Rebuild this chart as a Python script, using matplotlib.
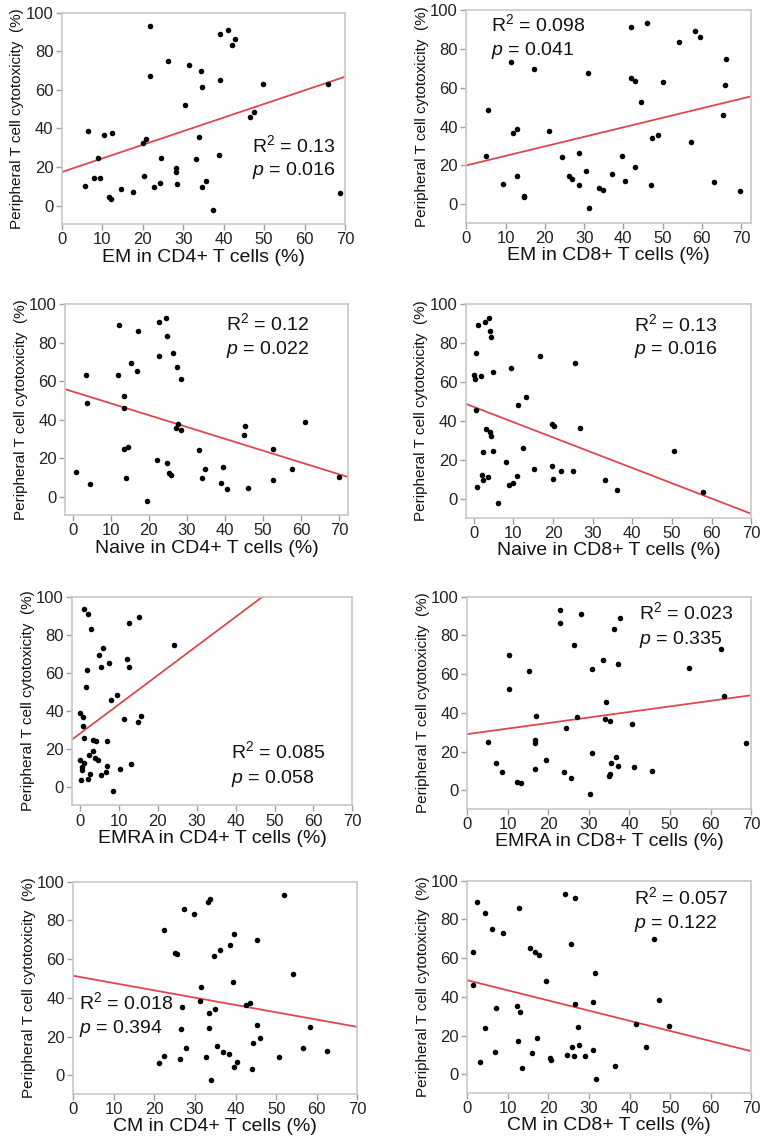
import matplotlib.pyplot as plt
import numpy as np
import matplotlib as mpl

mpl.rcParams['font.family'] = ['Liberation Sans', 'DejaVu Sans']
mpl.rcParams['mathtext.fontset'] = 'custom'
mpl.rcParams['mathtext.rm'] = 'Liberation Sans'
mpl.rcParams['mathtext.it'] = 'Liberation Sans:italic'

# --- data ---
em_cd4_x = [21.7, 39.1, 41.1, 42.8, 42.2, 26.3, 31.5, 34.3, 21.7, 39.0, 34.7, 49.8, 65.9, 30.4,
            46.5, 47.6, 6.6, 10.5, 12.5, 20.9, 20.1, 34.0, 8.9, 24.6, 33.1, 38.9, 28.3, 28.3,
            20.3, 7.9, 9.5, 5.8, 24.2, 28.5, 35.7, 34.6, 22.7, 14.6, 17.5, 11.7, 12.2, 37.5, 68.7]
em_cd4_y = [93.1, 89.1, 90.8, 86.2, 83.2, 74.8, 73.1, 69.8, 67.2, 65.1, 61.3, 63.0, 63.0, 52.3,
            45.9, 48.5, 38.7, 36.6, 37.7, 34.4, 32.3, 35.8, 24.5, 24.9, 24.4, 26.1, 19.3, 17.4,
            15.5, 14.3, 14.3, 10.4, 11.9, 11.2, 12.8, 9.7, 9.5, 8.5, 7.3, 4.5, 3.6, -2.1, 6.6]

em_cd8_x = [41.9, 46.0, 58.3, 59.5, 54.3, 66.1, 11.4, 17.3, 31.0, 41.9, 43.1, 50.0, 65.9, 44.6,
            5.5, 65.4, 13.0, 21.0, 11.9, 48.9, 47.4, 57.2, 28.6, 5.0, 24.3, 39.7, 43.0, 30.4,
            37.2, 13.0, 26.1, 26.8, 40.5, 63.2, 9.3, 28.7, 47.0, 33.9, 34.9, 14.6, 14.6, 69.7, 31.3]
em_cd8_y = [91.0, 93.3, 89.3, 86.2, 83.4, 75.0, 73.1, 69.8, 67.4, 65.2, 63.4, 63.1, 61.6, 52.4,
            48.6, 46.0, 38.8, 37.6, 36.6, 35.9, 34.3, 32.2, 26.2, 24.7, 24.3, 24.8, 19.3, 17.2,
            15.5, 14.3, 14.3, 12.8, 12.1, 11.2, 10.3, 9.7, 9.8, 8.3, 7.2, 4.5, 3.6, 6.6, -2.1]

naive_cd4_x = [24.5, 22.7, 12.2, 17.1, 24.8, 26.5, 22.7, 15.4, 27.3, 16.9, 3.5, 11.9, 28.5, 13.6,
               3.7, 13.6, 61.0, 27.7, 45.4, 27.2, 28.6, 45.1, 14.6, 13.4, 33.1, 52.7, 22.2, 24.7,
               39.5, 34.9, 57.5, 25.4, 25.9, 0.9, 14.0, 33.9, 70.0, 52.7, 39.0, 4.7, 46.0, 40.6, 19.6]
naive_cd4_y = [92.9, 90.7, 88.9, 86.0, 83.2, 74.8, 73.1, 69.6, 67.2, 65.1, 63.2, 62.9, 61.3, 52.3,
               48.5, 46.1, 38.9, 37.7, 36.6, 35.6, 34.4, 32.1, 25.9, 24.9, 24.4, 24.5, 19.3, 17.3,
               15.5, 14.3, 14.3, 12.1, 11.2, 12.6, 9.8, 9.7, 10.2, 8.5, 7.3, 6.6, 4.7, 3.8, -2.1]

naive_cd8_x = [3.9, 2.9, 1.0, 4.2, 4.5, 0.7, 16.7, 25.6, 9.4, 5.0, 0.0, 1.8, 0.4, 13.1, 11.2, 0.5,
               19.7, 20.3, 26.7, 3.0, 4.1, 4.5, 12.4, 50.5, 2.4, 4.9, 8.2, 19.8, 15.2, 22.0, 25.0,
               2.1, 10.9, 3.6, 20.1, 2.4, 33.1, 10.0, 9.0, 0.9, 36.1, 57.9, 6.1]
naive_cd8_y = [93.0, 90.7, 89.0, 86.1, 83.2, 74.8, 73.1, 69.6, 67.2, 65.0, 63.5, 63.1, 61.4, 52.3,
               48.5, 45.8, 38.6, 37.6, 36.5, 35.8, 34.3, 32.2, 26.1, 24.5, 24.4, 24.9, 19.2, 17.2,
               15.6, 14.2, 14.2, 12.5, 11.8, 11.1, 10.3, 9.6, 9.6, 8.2, 7.2, 6.3, 4.5, 3.6, -2.1]

emra_cd4_x = [1.1, 2.1, 15.2, 12.5, 2.8, 24.1, 5.8, 4.8, 7.4, 12.0, 5.5, 12.5, 1.7, 1.5, 9.4, 7.9,
              0.1, 15.7, 0.8, 11.4, 14.9, 0.7, 1.1, 3.4, 4.0, 6.8, 3.2, 2.2, 3.9, 4.5, 0.0, 0.9,
              13.1, 7.0, 0.6, 0.6, 10.2, 6.6, 2.6, 5.4, 2.1, 0.2, 8.5]
emra_cd4_y = [93.3, 91.0, 89.3, 86.1, 83.3, 74.9, 72.9, 69.6, 65.0, 67.5, 63.3, 63.1, 61.7, 52.4,
              48.5, 45.9, 38.7, 37.4, 36.6, 35.7, 34.3, 32.2, 26.0, 24.8, 24.3, 24.3, 19.0, 17.0,
              15.3, 14.1, 14.4, 12.5, 12.0, 11.1, 10.4, 9.1, 9.5, 8.1, 7.0, 6.3, 4.4, 3.7, -2.1]

emra_cd8_x = [23.0, 28.0, 37.6, 22.9, 36.2, 26.4, 62.6, 10.4, 33.5, 37.1, 54.7, 30.9, 15.3, 10.3,
              63.2, 34.2, 17.0, 27.2, 34.1, 35.2, 40.6, 24.4, 16.7, 5.2, 16.7, 68.6, 30.9, 36.6,
              19.4, 35.4, 7.1, 37.2, 41.0, 16.7, 45.5, 8.6, 23.9, 35.2, 35.0, 25.5, 12.2, 13.3, 30.4]
emra_cd8_y = [93.1, 91.0, 89.1, 86.2, 83.3, 74.8, 72.9, 69.7, 67.2, 65.0, 63.3, 62.9, 61.6, 52.2,
              48.6, 45.7, 38.6, 37.8, 36.6, 35.7, 34.3, 32.2, 26.0, 24.8, 24.5, 24.3, 19.1, 17.1,
              15.5, 14.3, 14.1, 12.6, 11.9, 11.0, 10.2, 9.5, 9.5, 8.3, 7.2, 6.6, 4.5, 3.6, -2.1]

cm_cd4_x = [51.9, 33.6, 33.1, 27.2, 29.7, 22.3, 39.7, 45.2, 38.5, 36.2, 25.0, 25.5, 34.8, 54.1,
            39.3, 31.5, 31.3, 43.5, 42.6, 26.8, 34.9, 33.4, 45.2, 58.3, 26.5, 33.5, 45.9, 44.3,
            35.5, 27.7, 56.5, 62.5, 36.9, 38.3, 22.4, 32.6, 50.6, 26.3, 40.3, 21.0, 39.6, 44.0, 34.0]
cm_cd4_y = [92.9, 91.2, 89.3, 86.0, 83.1, 74.8, 72.9, 69.7, 67.2, 64.8, 63.1, 62.9, 61.4, 52.2,
            48.4, 45.7, 38.4, 37.4, 36.4, 35.5, 34.1, 32.1, 25.9, 24.7, 24.1, 24.3, 19.1, 16.9,
            15.3, 14.0, 14.1, 12.4, 11.9, 11.0, 10.0, 9.3, 9.5, 8.3, 6.9, 6.2, 4.3, 3.4, -2.2]

cm_cd8_x = [24.2, 26.5, 2.4, 12.7, 4.4, 6.0, 8.7, 46.0, 25.5, 15.4, 16.7, 1.5, 17.7, 31.4, 19.4,
            1.5, 47.3, 30.9, 26.5, 12.3, 7.0, 12.9, 41.7, 49.6, 4.4, 27.3, 17.2, 12.4, 27.5, 25.9,
            44.1, 30.9, 6.9, 15.9, 24.5, 20.4, 26.2, 28.9, 20.6, 3.2, 36.5, 13.5, 31.6]
cm_cd8_y = [93.1, 90.9, 89.0, 86.0, 83.1, 74.8, 72.9, 69.7, 67.2, 65.0, 63.1, 63.1, 61.4, 52.2,
            48.4, 45.9, 38.6, 37.4, 36.2, 35.5, 34.1, 32.1, 25.9, 24.7, 24.1, 24.3, 19.0, 17.1,
            15.3, 14.0, 14.0, 12.4, 11.7, 11.0, 10.0, 8.4, 9.5, 9.3, 7.4, 6.2, 4.3, 3.4, -2.2]

xlabels = ['EM in CD4+ T cells (%)', 'EM in CD8+ T cells (%)',
           'Naive in CD4+ T cells (%)', 'Naive in CD8+ T cells (%)',
           'EMRA in CD4+ T cells (%)', 'EMRA in CD8+ T cells (%)',
           'CM in CD4+ T cells (%)', 'CM in CD8+ T cells (%)']
xs = [em_cd4_x, em_cd8_x, naive_cd4_x, naive_cd8_x, emra_cd4_x, emra_cd8_x, cm_cd4_x, cm_cd8_x]
ys = [em_cd4_y, em_cd8_y, naive_cd4_y, naive_cd8_y, emra_cd4_y, emra_cd8_y, cm_cd4_y, cm_cd8_y]

# fitted lines (intercept, slope) as drawn
intercepts = [17.4, 20.0, 54.6, 47.3, 28.2, 29.0, 51.4, 48.6]
slopes = [0.706, 0.490, -0.614, -0.783, 1.53, 0.287, -0.377, -0.524]
r2_txt = ['0.13', '0.098', '0.12', '0.13', '0.085', '0.023', '0.018', '0.057']
p_txt = ['0.016', '0.041', '0.022', '0.016', '0.058', '0.335', '0.394', '0.122']

xlims = [(0, 70), (0, 72.6), (-1.9, 72.4), (-2, 70), (-2, 70), (0, 70), (0, 70), (0, 70)]
text_pos = [(0.67, 0.342, 0.232), (0.088, 0.90, 0.788), (0.568, 0.874, 0.763),
            (0.588, 0.875, 0.764), (0.567, 0.224, 0.105), (0.605, 0.895, 0.777),
            (0.02, 0.40, 0.285), (0.586, 0.89, 0.775)]

# axes boxes in pixels: left, right, top, bottom
boxes = [(61.7, 345, 12.7, 224), (466.3, 751.3, 10, 222.7),
         (65.3, 348.3, 304, 515), (465.7, 751.3, 304, 517.7),
         (72.3, 352.3, 596.7, 805.3), (467, 751.3, 596.7, 808.7),
         (73.3, 357.3, 881.7, 1093.7), (467.3, 751.3, 880.7, 1092.7)]

W, H = 767, 1147
fig = plt.figure(figsize=(W / 100, H / 100), dpi=100)

spine_col = '#c8c8c8'
red = '#e0474c'

for i in range(8):
    l, r, t, b = boxes[i]
    ax = fig.add_axes([l / W, 1 - b / H, (r - l) / W, (b - t) / H])
    ax.scatter(xs[i], ys[i], s=16, color='black', zorder=3, linewidths=0)
    x0, x1 = xlims[i]
    xx = np.array([x0, x1])
    ax.plot(xx, intercepts[i] + slopes[i] * xx, color=red, lw=1.3, zorder=2)
    ax.set_xlim(x0, x1)
    ax.set_ylim(-9.5, 100)
    ax.set_xticks(range(0, 71, 10))
    ax.set_yticks(range(0, 101, 20))
    for s in ax.spines.values():
        s.set_color(spine_col)
        s.set_linewidth(1.2)
    ax.tick_params(direction='out', length=4, width=1, color='#a0a0a0',
                   labelsize=12, labelcolor='#222222', pad=2)
    ax.set_xlabel(xlabels[i], fontsize=14, color='#111111', labelpad=1)
    ax.set_ylabel('Peripheral T cell cytotoxicity  (%)', fontsize=11,
                  color='#111111', labelpad=1)
    tx, ty1, ty2 = text_pos[i]
    ax.text(tx, ty1, 'R$^2$ = ' + r2_txt[i], transform=ax.transAxes,
            fontsize=14, ha='left', va='baseline', color='#111111')
    ax.text(tx, ty2, '$p$ = ' + p_txt[i], transform=ax.transAxes,
            fontsize=14, ha='left', va='baseline', color='#111111')

plt.savefig('out.png', dpi=100)
